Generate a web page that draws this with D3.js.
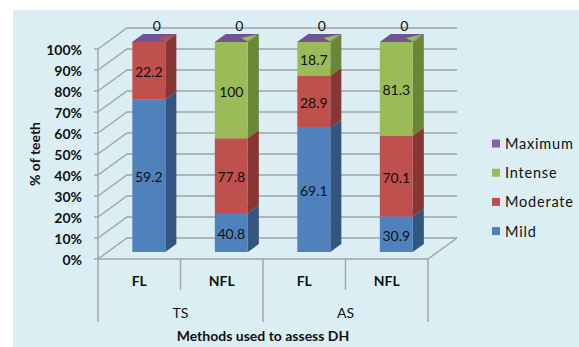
<!DOCTYPE html>
<html>
<head>
<meta charset="utf-8">
<script src="https://cdn.jsdelivr.net/npm/d3@7"></script>
<style>
  html, body { margin: 0; padding: 0; background: #ffffff; }
  svg { display: block; }
  text { font-family: Lato, "Open Sans", sans-serif; }
</style>
</head>
<body>
<svg id="chart" width="579" height="347"></svg>
<script>
// Dentin hypersensitivity grades per assessment method (TS / AS) and site (FL / NFL)
const categories = ["FL", "NFL", "FL", "NFL"];
const groups = ["TS", "AS"];
const seriesNames = ["Mild", "Moderate", "Intense", "Maximum"];
const mild = [59.2, 40.8, 69.1, 30.9];
const moderate = [22.2, 77.8, 28.9, 70.1];
const intense = [0, 100, 18.7, 81.3];
const maximum = [0, 0, 0, 0];
const yTickValues = [0, 0.1, 0.2, 0.3, 0.4, 0.5, 0.6, 0.7, 0.8, 0.9, 1];
const yTitle = "% of teeth";
const xTitle = "Methods used to assess DH";

const seriesValues = { Mild: mild, Moderate: moderate, Intense: intense, Maximum: maximum };
const colors = {
  Mild:     { front: "#4f81bd", side: "#34557f", top: "#6a96cc" },
  Moderate: { front: "#c0504d", side: "#873634", top: "#d06e6b" },
  Intense:  { front: "#9bbb59", side: "#6c8638", top: "#b0cc78" },
  Maximum:  { front: "#8064a2", side: "#5c4578", top: "#6f5393" }
};

const rows = categories.map((c, i) => {
  const r = { idx: i, cat: c };
  seriesNames.forEach(s => r[s] = seriesValues[s][i]);
  return r;
});

const stacked = d3.stack().keys(seriesNames).offset(d3.stackOffsetExpand)(rows);

const svg = d3.select("#chart");

// plot box on the front plane, with an oblique depth vector
const plotLeft = 98, plotRight = 428, plotBottom = 259, plotTop = 49;
const depth = { dx: 29, dy: -21 };
const barZ0 = 0.33, barZ1 = 0.71;

const x = d3.scaleBand().domain(d3.range(categories.length)).range([plotLeft, plotRight])
  .paddingInner(0.6).paddingOuter(0.3);
const step = x.step();
const y = d3.scaleLinear().domain([0, 1]).range([plotBottom, plotTop]);

const P = (px, v, z) => [px + z * depth.dx, y(v) + z * depth.dy];
const poly = pts => "M" + pts.map(p => p.join(",")).join("L") + "Z";

// panel background
svg.append("rect").attr("x", 13).attr("y", 10).attr("width", 566).attr("height", 337)
  .attr("fill", "#dbeef4");

const gridColor = "#a3a3a3";
const walls = svg.append("g").attr("stroke", gridColor).attr("stroke-width", 1.4).attr("fill", "none");

// back-wall gridlines and side-wall diagonals
yTickValues.forEach(v => {
  const a = P(plotLeft, v, 0), b = P(plotLeft, v, 1), c = P(plotRight, v, 1);
  walls.append("path").attr("d", `M${a}L${b}L${c}`);
});
// floor front edge and right edge
walls.append("path").attr("d", `M${P(plotLeft, 0, 0)}L${P(plotRight, 0, 0)}L${P(plotRight, 0, 1)}`);
// value axis line with ticks
walls.append("line").attr("x1", plotLeft).attr("x2", plotLeft).attr("y1", y(0)).attr("y2", y(1));
yTickValues.forEach(v => {
  walls.append("line").attr("x1", plotLeft - 4).attr("x2", plotLeft).attr("y1", y(v)).attr("y2", y(v));
});

// category separators: short between sites, long between methods
d3.range(categories.length + 1).forEach(i => {
  const sx = plotLeft + i * step;
  const long = i % 2 === 0;
  walls.append("line").attr("x1", sx).attr("x2", sx)
    .attr("y1", plotBottom).attr("y2", long ? 322 : 290);
});

// bars
const bars = svg.append("g");
rows.forEach((r, i) => {
  const x0 = x(i), x1 = x(i) + x.bandwidth();
  stacked.forEach(layer => {
    const key = layer.key;
    const [v0, v1] = layer[i];
    const col = colors[key];
    if (v1 - v0 > 1e-9) {
      bars.append("path").attr("fill", col.side)
        .attr("d", poly([P(x1, v0, barZ0), P(x1, v0, barZ1), P(x1, v1, barZ1), P(x1, v1, barZ0)]));
      bars.append("path").attr("fill", col.top)
        .attr("d", poly([P(x0, v1, barZ0), P(x1, v1, barZ0), P(x1, v1, barZ1), P(x0, v1, barZ1)]));
      bars.append("path").attr("fill", col.front)
        .attr("d", poly([P(x0, v0, barZ0), P(x1, v0, barZ0), P(x1, v1, barZ0), P(x0, v1, barZ0)]));
    }
  });
  // zero-height top segment: its cap covers the column, with the colour beneath showing at the back
  const last = stacked[stacked.length - 1];
  const t1 = last[i][1];
  const below = stacked.slice(0, -1).filter(l => l[i][1] - l[i][0] > 1e-9).pop();
  bars.append("path").attr("fill", colors[last.key].top)
    .attr("d", poly([P(x0, t1, barZ0), P(x1, t1, barZ0), P(x1, t1, barZ1), P(x0, t1, barZ1)]));
  if (below) {
    const w = x1 - x0;
    const tip = P(x0 + w * 0.62, t1, barZ0 + (barZ1 - barZ0) * 0.5);
    bars.append("path").attr("fill", colors[below.key].front)
      .attr("d", poly([tip, P(x1 - 1, t1, barZ1 - 0.01), P(x1 - 1, t1, barZ0 + 0.03)]));
  }
});

// data labels
const labels = svg.append("g").attr("font-size", 14).attr("fill", "#111")
  .attr("text-anchor", "middle").attr("dominant-baseline", "central");
rows.forEach((r, i) => {
  const cx = x(i) + x.bandwidth() / 2;
  stacked.forEach(layer => {
    const [v0, v1] = layer[i];
    const val = r[layer.key];
    if (layer.key === "Maximum") {
      const p = P(cx, v1, barZ0);
      labels.append("text").attr("x", p[0] + 8).attr("y", p[1] - 17).text(val);
    } else if (val > 0) {
      const p = P(cx, (v0 + v1) / 2, barZ0);
      labels.append("text").attr("x", p[0]).attr("y", p[1] + 1).text(val);
    }
  });
});

// value axis labels
const axisText = svg.append("g").attr("font-size", 14).attr("font-weight", "bold").attr("fill", "#111");
yTickValues.forEach(v => {
  axisText.append("text").attr("x", 82).attr("y", y(v)).attr("text-anchor", "end")
    .attr("dominant-baseline", "central").text(d3.format(".0%")(v));
});
axisText.append("text").attr("transform", `translate(34,${(y(0) + y(1)) / 2}) rotate(-90)`)
  .attr("text-anchor", "middle").attr("dominant-baseline", "central").text(yTitle);

// category labels, group labels, axis title
categories.forEach((c, i) => {
  axisText.append("text").attr("x", plotLeft + (i + 0.5) * step).attr("y", 280)
    .attr("text-anchor", "middle").attr("dominant-baseline", "central").text(c);
});
groups.forEach((g, gi) => {
  axisText.append("text").attr("x", plotLeft + (gi * 2 + 1) * step).attr("y", 312)
    .attr("text-anchor", "middle").attr("dominant-baseline", "central").attr("font-weight", "normal")
    .text(g);
});
axisText.append("text").attr("x", (plotLeft + plotRight) / 2).attr("y", 335)
  .attr("text-anchor", "middle").attr("dominant-baseline", "central").text(xTitle);

// legend
const legend = svg.append("g").attr("font-size", 14.5).attr("fill", "#111");
seriesNames.slice().reverse().forEach((s, k) => {
  const ly = 143.5 + k * 29.2;
  legend.append("rect").attr("x", 492).attr("y", ly - 4).attr("width", 8).attr("height", 8)
    .attr("fill", colors[s].front);
  legend.append("text").attr("x", 505).attr("y", ly).attr("dominant-baseline", "central")
    .attr("letter-spacing", 0.8).text(s);
});
</script>
</body>
</html>
